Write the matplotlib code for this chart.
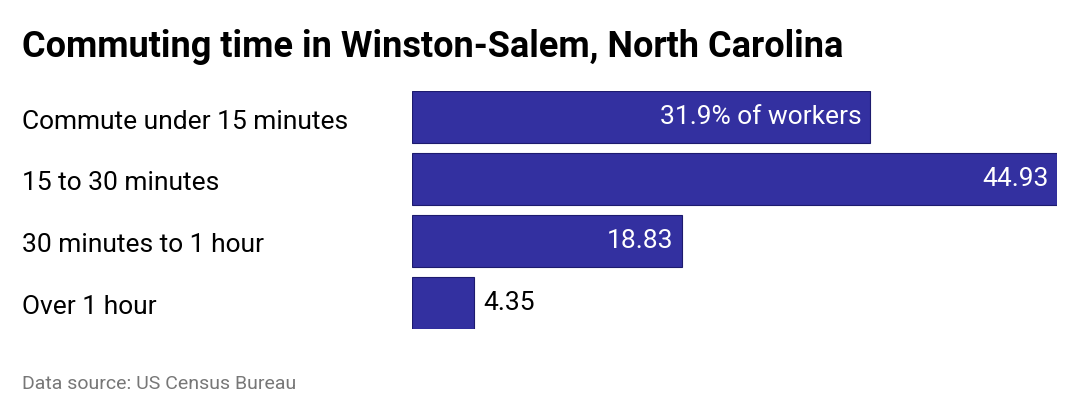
import matplotlib
matplotlib.use("Agg")
import matplotlib.pyplot as plt

categories = ["Commute under 15 minutes", "15 to 30 minutes", "30 minutes to 1 hour", "Over 1 hour"]
values = [31.9, 44.93, 18.83, 4.35]
labels = ["31.9% of workers", "44.93", "18.83", "4.35"]

plt.rcParams['font.family'] = ['Roboto', 'DejaVu Sans']
fig = plt.figure(figsize=(10.8, 4.2), dpi=100)
ax = fig.add_axes([412/1080, 1-329/420, 645/1080, 238/420])
h = 52/61.5
ys = list(range(len(values)))
ax.barh(ys, values, height=h, color="#3330a0", edgecolor="#1d1b6e", linewidth=0.8)
ax.set_xlim(0, max(values))
pad = h/2 + 0.002
ax.set_ylim(3 + pad, -pad)
ax.axis("off")
for y, v, lab, cat in zip(ys, values, labels, categories):
    if v > 10:
        ax.text(v - 0.6, y, lab, ha="right", va="center", color="white", fontsize=19)
    else:
        ax.text(v + 0.6, y, lab, ha="left", va="center", color="black", fontsize=19)
    fig.text(22/1080, 1 - (122 + y*61.5)/420, cat, ha="left", va="center", fontsize=19)
fig.text(22/1080, 1-47/420, "Commuting time in Winston-Salem, North Carolina", fontsize=26, fontweight="bold", va="center")
fig.text(22/1080, 1-384/420, "Data source: US Census Bureau", fontsize=14, color="#777777", va="center")
fig.savefig("out.png", dpi=100, facecolor="white")
